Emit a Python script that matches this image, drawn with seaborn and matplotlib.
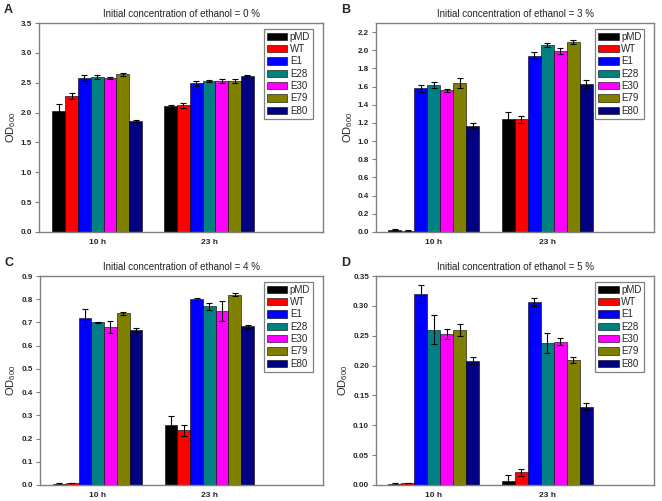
import numpy as np
import pandas as pd
import matplotlib
matplotlib.use("Agg")
import matplotlib.pyplot as plt
from matplotlib.container import BarContainer
import seaborn as sns

sns.set_style("white")
plt.rcParams['font.family'] = ['Liberation Sans', 'DejaVu Sans']
plt.rcParams['mathtext.default'] = 'regular'

strains = ["pMD", "WT", "E1", "E28", "E30", "E79", "E80"]
times = ["10 h", "23 h"]
colors = ["#000000", "#ff0000", "#0000ff", "#008080", "#ff00ff", "#808000", "#000080"]

# OD600 means / errors, row = time point (10 h, 23 h), column = strain
od_0 = [[2.03, 2.27, 2.58, 2.60, 2.58, 2.64, 1.86],
        [2.11, 2.12, 2.49, 2.53, 2.53, 2.53, 2.62]]
err_0 = [[0.12, 0.05, 0.05, 0.03, 0.01, 0.02, 0.02],
         [0.01, 0.04, 0.04, 0.01, 0.03, 0.04, 0.01]]

od_3 = [[0.025, 0.015, 1.58, 1.62, 1.56, 1.64, 1.17],
        [1.24, 1.24, 1.94, 2.06, 1.99, 2.09, 1.63]]
err_3 = [[0.005, 0.005, 0.04, 0.03, 0.015, 0.06, 0.03],
         [0.08, 0.04, 0.04, 0.02, 0.03, 0.02, 0.04]]

od_4 = [[0.005, 0.007, 0.72, 0.70, 0.68, 0.74, 0.667],
        [0.26, 0.235, 0.80, 0.77, 0.75, 0.82, 0.683]]
err_4 = [[0.003, 0.0, 0.04, 0.003, 0.025, 0.007, 0.008],
         [0.035, 0.023, 0.007, 0.015, 0.043, 0.008, 0.008]]

od_5 = [[0.002, 0.004, 0.320, 0.260, 0.253, 0.260, 0.208],
        [0.006, 0.021, 0.306, 0.238, 0.240, 0.210, 0.131]]
err_5 = [[0.002, 0.0, 0.015, 0.024, 0.008, 0.010, 0.006],
         [0.011, 0.006, 0.007, 0.017, 0.006, 0.005, 0.006]]

grey = "#808080"


def yticks_fmt(ticks):
    step = ticks[1] - ticks[0]
    nd = 2 if step < 0.1 else 1
    return [f"{t:.{nd}f}" for t in ticks]


def panel(ax, od, err, conc, letter, ymax, yticks, xlim):
    df = pd.DataFrame([(t, s, od[i][j]) for i, t in enumerate(times)
                       for j, s in enumerate(strains)],
                      columns=["time", "strain", "od"])
    sns.barplot(data=df, x="time", y="od", hue="strain", order=times,
                hue_order=strains, palette=colors, errorbar=None, width=0.8,
                edgecolor="black", linewidth=0.4, saturation=1, ax=ax)
    # error bars on top of seaborn's bars
    bar_conts = [c for c in ax.containers if isinstance(c, BarContainer)]
    for j, cont in enumerate(bar_conts):
        bars = sorted(cont, key=lambda b: b.get_x())
        for i, b in enumerate(bars):
            ax.errorbar(b.get_x() + b.get_width() / 2, b.get_height(),
                        yerr=err[i][j], color="black", lw=0.8,
                        capsize=2.2, capthick=0.8)
    ax.set_xlim(*xlim)
    ax.set_ylim(0, ymax)
    ax.set_yticks(yticks)
    ax.set_yticklabels(yticks_fmt(yticks))
    ax.set_xlabel("")
    ax.set_ylabel("OD$_{600}$", fontsize=8, labelpad=2)
    ax.set_title(f"Initial concentration of ethanol = {conc} %",
                 fontsize=7, color="#222222", pad=4.5)
    ax.text(-0.125, 1.09, letter, transform=ax.transAxes, fontsize=9,
            fontweight="bold", va="top")
    for sp in ax.spines.values():
        sp.set_color(grey)
        sp.set_linewidth(1.0)
    ax.tick_params(axis="y", direction="out", length=3, width=0.8,
                   color=grey, labelsize=5.8, pad=2, left=True)
    ax.tick_params(axis="x", length=0, labelsize=6, pad=5)
    for lbl in ax.get_xticklabels() + ax.get_yticklabels():
        lbl.set_fontweight("bold")
    leg = ax.legend(loc="upper right", bbox_to_anchor=(0.965, 0.972),
                    fontsize=7, frameon=True, fancybox=False,
                    framealpha=1, edgecolor=grey, handlelength=2.1,
                    handleheight=0.8, labelspacing=0.24, handletextpad=0.25,
                    borderpad=0.3, borderaxespad=0)
    leg.get_frame().set_linewidth(0.9)


fig = plt.figure(figsize=(6.62, 5.01), dpi=100)
ax_a = fig.add_axes([0.059, 0.537, 0.429, 0.417])
ax_b = fig.add_axes([0.568, 0.537, 0.420, 0.417])
ax_c = fig.add_axes([0.060, 0.032, 0.428, 0.417])
ax_d = fig.add_axes([0.568, 0.032, 0.420, 0.417])

panel(ax_a, od_0, err_0, 0, "A", 3.5, np.round(np.arange(0, 3.51, 0.5), 2), (-0.52, 2.02))
panel(ax_b, od_3, err_3, 3, "B", 2.3, np.round(np.arange(0, 2.21, 0.2), 2), (-0.51, 1.94))
panel(ax_c, od_4, err_4, 4, "C", 0.9, np.round(np.arange(0, 0.91, 0.1), 2), (-0.52, 2.02))
panel(ax_d, od_5, err_5, 5, "D", 0.35, np.round(np.arange(0, 0.351, 0.05), 2), (-0.51, 1.94))

fig.savefig("out.png", dpi=100)
